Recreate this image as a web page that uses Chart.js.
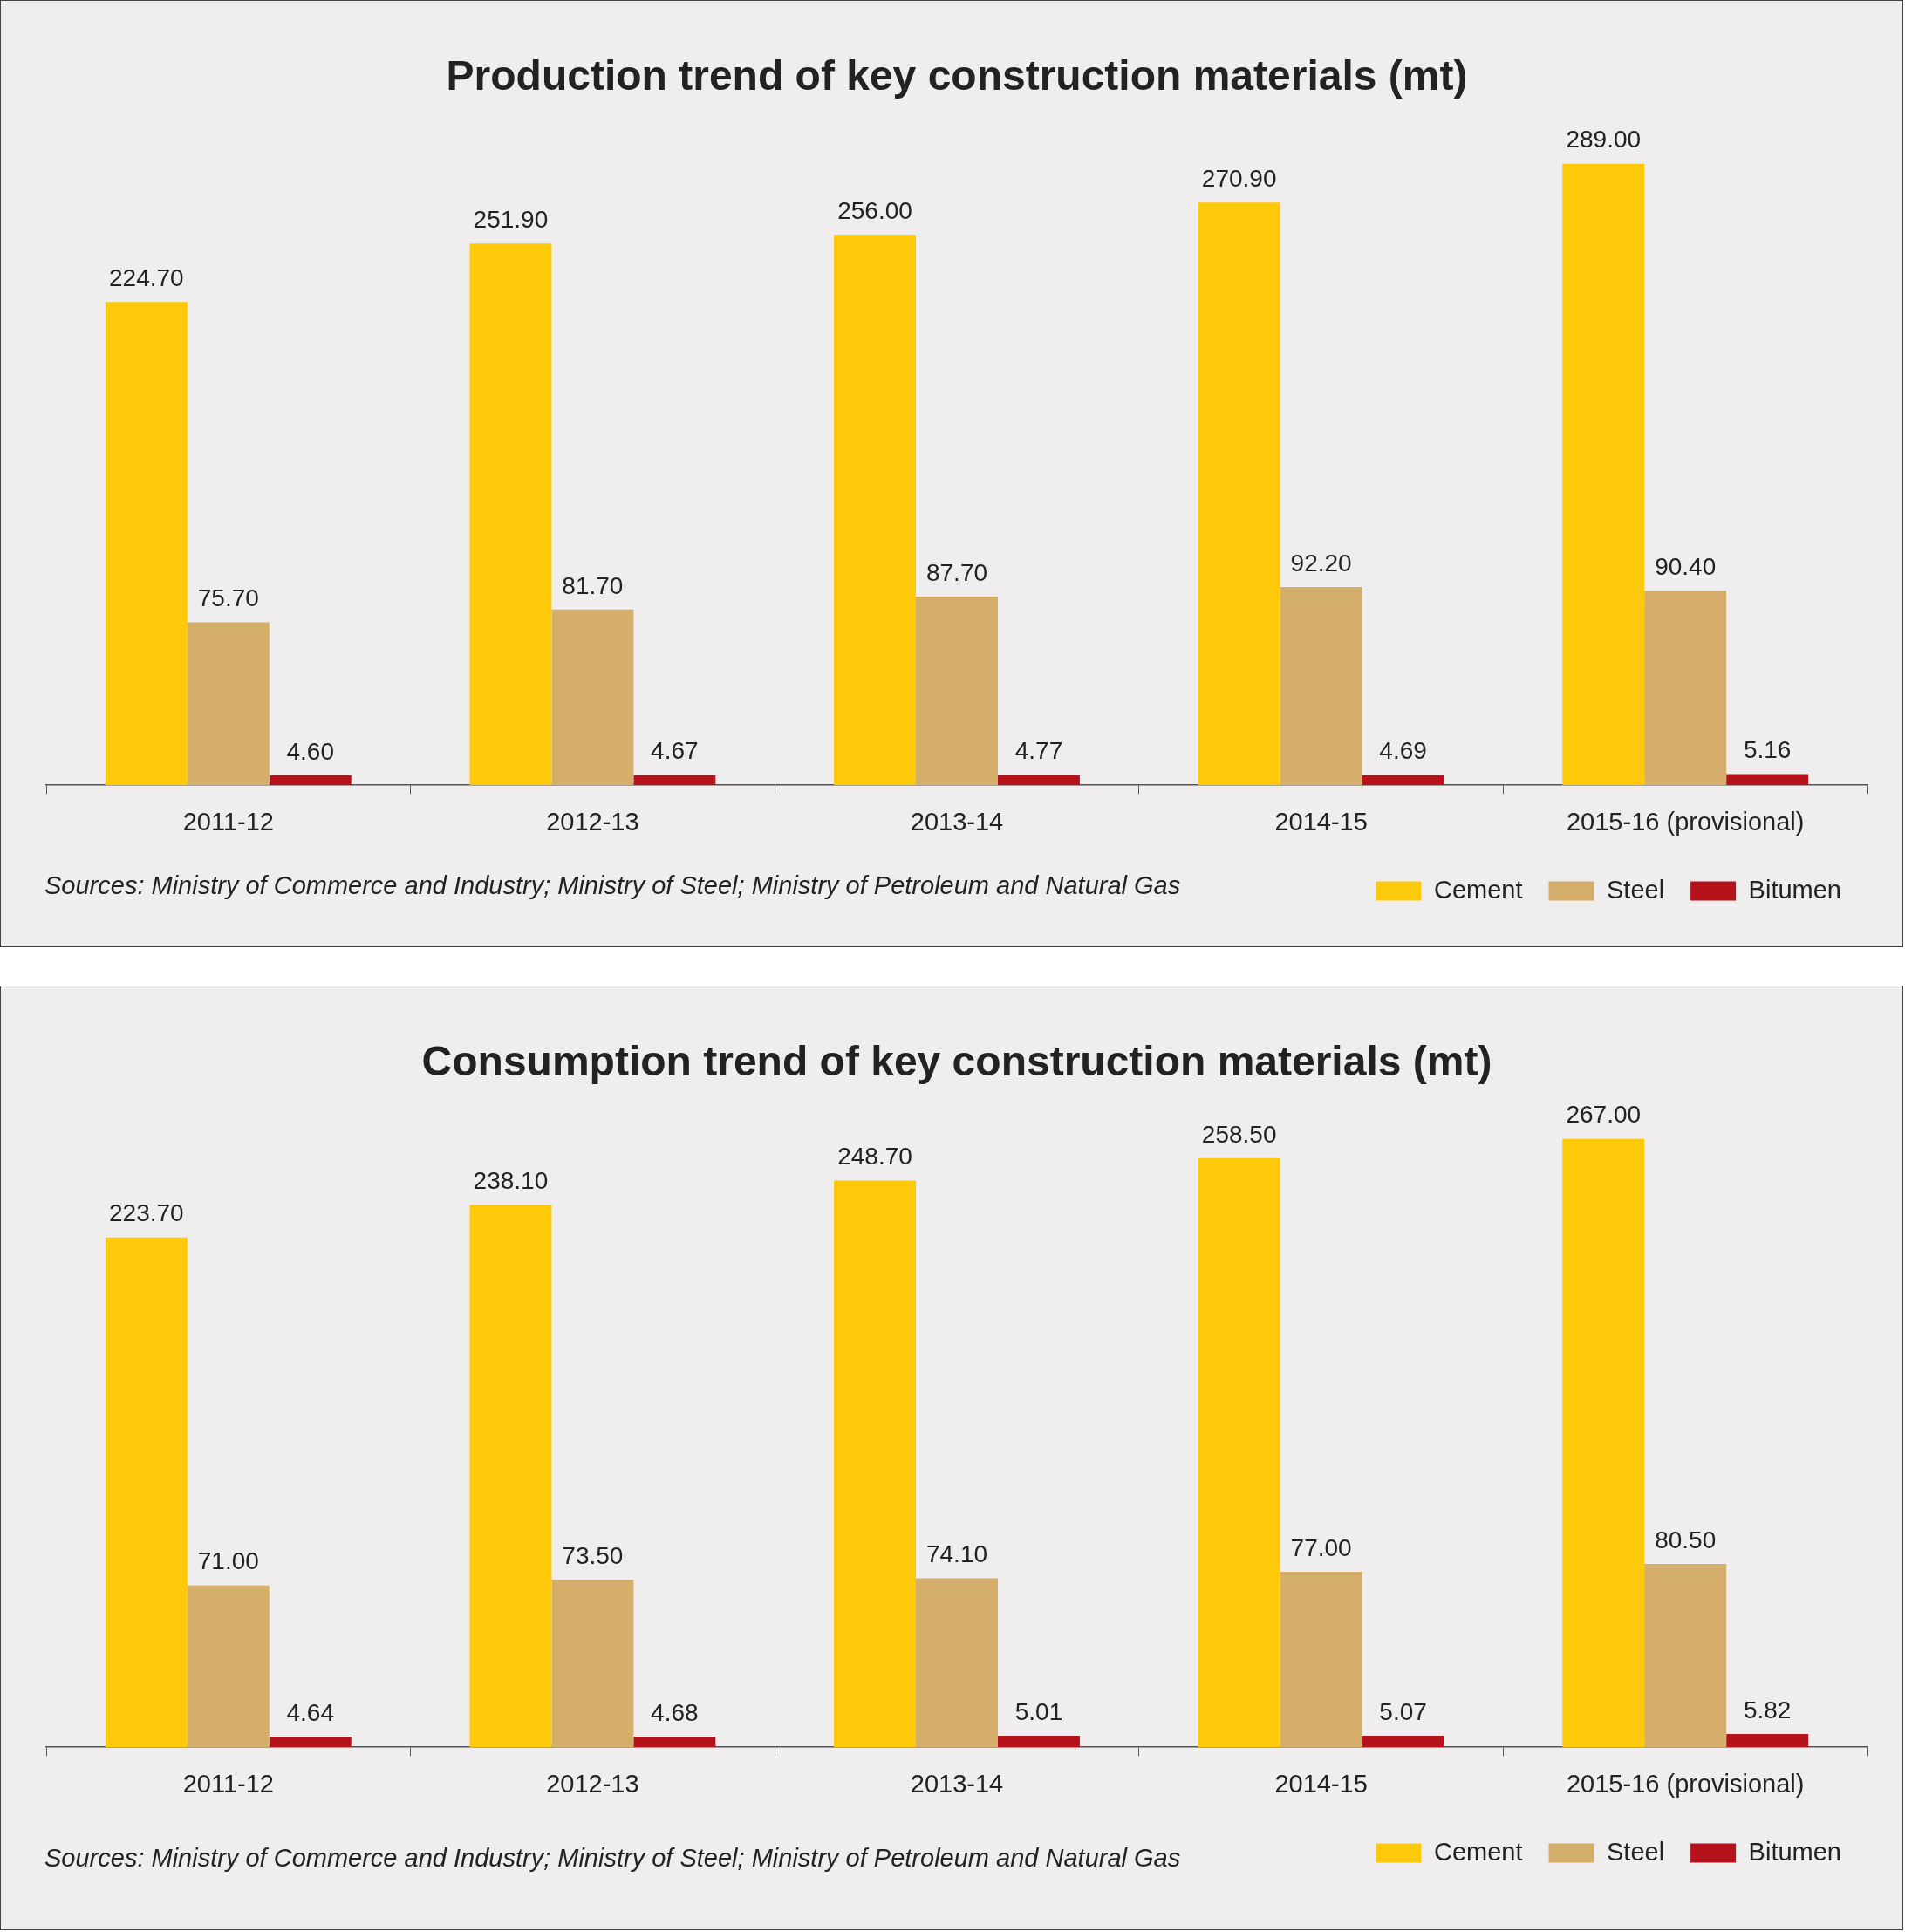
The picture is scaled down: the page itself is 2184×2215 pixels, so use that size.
<!DOCTYPE html>
<html><head><meta charset="utf-8">
<script src="https://cdn.jsdelivr.net/npm/chart.js@4"></script>
<style>
body{margin:0;background:#fff;width:2184px;height:2215px;position:relative;font-family:"Liberation Sans Narrow","Liberation Sans",sans-serif}
.panel{position:absolute;left:0;width:2182px;background:#EFEDEE;border:1.5px solid #444;box-sizing:border-box}
.panel canvas{position:absolute;left:0;top:0}
.src{position:absolute;left:50px;font-style:italic;font-size:29px;color:#222}
</style></head><body>
<div class="panel" id="p1" style="top:0;height:1086px"><canvas id="c1"></canvas><div class="src" style="top:998px">Sources: Ministry of Commerce and Industry; Ministry of Steel; Ministry of Petroleum and Natural Gas</div></div>
<div class="panel" id="p2" style="top:1130px;height:1083px"><canvas id="c2"></canvas><div class="src" style="top:983px">Sources: Ministry of Commerce and Industry; Ministry of Steel; Ministry of Petroleum and Natural Gas</div></div>
<script>
const categories=["2011-12","2012-13","2013-14","2014-15","2015-16 (provisional)"];
const seriesNames=["Cement","Steel","Bitumen"];
const prodCement=[224.7,251.9,256.0,270.9,289.0];
const prodSteel=[75.7,81.7,87.7,92.2,90.4];
const prodBitumen=[4.60,4.67,4.77,4.69,5.16];
const consCement=[223.7,238.1,248.7,258.5,267.0];
const consSteel=[71.0,73.5,74.1,77.0,80.5];
const consBitumen=[4.64,4.68,5.01,5.07,5.82];
const colors=["#FDC90A","#D4AE6A","#B5121B"];
const FONT="'Liberation Sans Narrow','Liberation Sans',sans-serif";
const labelPlugin={id:'lbl',afterDatasetsDraw(ch){const c=ch.ctx;c.save();c.font="28px "+FONT;c.fillStyle="#222";c.textAlign="center";c.textBaseline="bottom";
ch.data.datasets.forEach((d,i)=>{ch.getDatasetMeta(i).data.forEach((b,j)=>{c.fillText(d.data[j].toFixed(2),b.x,b.y-12);});});c.restore();}};
function make(id,title,vals,max,h,bottomPad,titleGap){
 const cv=document.getElementById(id);cv.width=2180;cv.height=h;cv.style.width="2180px";cv.style.height=h+"px";
 new Chart(cv,{type:'bar',plugins:[labelPlugin],
 data:{labels:categories,datasets:vals.map((v,i)=>({label:seriesNames[i],data:v,backgroundColor:colors[i],categoryPercentage:0.675,barPercentage:1}))},
 options:{responsive:false,animation:false,devicePixelRatio:1,
  layout:{padding:{left:52,right:40,top:20,bottom:bottomPad}},
  plugins:{tooltip:{enabled:false},
   title:{display:true,text:title,color:"#222",font:{family:"Impact,"+FONT,size:48,weight:'bold'},padding:{top:40,bottom:titleGap}},
   legend:{position:'bottom',align:'end',labels:{color:"#222",font:{family:FONT,size:29},boxWidth:52,boxHeight:22,padding:30}}},
  scales:{y:{display:false,min:0,max:max},
   x:{grid:{display:true,drawOnChartArea:false,offset:true,tickLength:10,color:"#555"},border:{color:"#555",width:1.5},
      ticks:{color:"#222",font:{family:FONT,size:29},padding:16}}}}});
}
make('c1',"Production trend of key construction materials (mt)",[prodCement,prodSteel,prodBitumen],300,1083,38,42);
make('c2',"Consumption trend of key construction materials (mt)",[consCement,consSteel,consBitumen],285,1080,62,10);
</script></body></html>
